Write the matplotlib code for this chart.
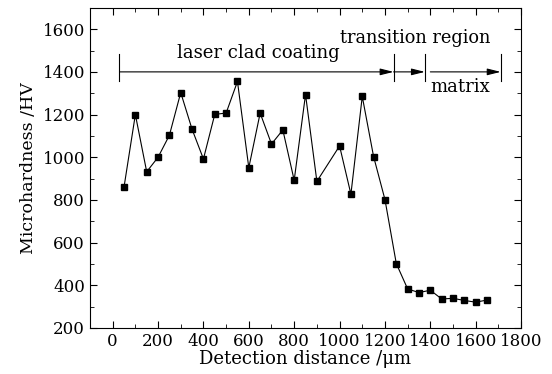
import matplotlib.pyplot as plt
from matplotlib.ticker import MultipleLocator

# -----------------------------
# Data
# -----------------------------
distance = [50, 100, 150, 200, 250, 300, 350, 400, 450, 500, 550, 600, 650,
            700, 750, 800, 850, 900, 1000, 1050, 1100, 1150, 1200, 1250,
            1300, 1350, 1400, 1450, 1500, 1550, 1600, 1650]
hardness = [860, 1200, 932, 1000, 1103, 1303, 1131, 992, 1201, 1207, 1355, 951, 1207,
            1062, 1128, 892, 1294, 887, 1053, 827, 1285, 1003, 802, 502,
            383, 366, 377, 336, 339, 329, 321, 331]

# region boundaries (um) and arrow height (HV)
region_edges = [30, 1238, 1376, 1710]
arrow_y = 1400
region_labels = ["laser clad coating", "transition region", "matrix"]

plt.rcParams["font.family"] = "DejaVu Serif"
plt.rcParams["mathtext.fontset"] = "dejavuserif"

fig = plt.figure(figsize=(5.52, 3.74), dpi=100)
ax = fig.add_axes([0.163, 0.123, 0.781, 0.856])

ax.plot(distance, hardness, color="black", linewidth=0.8,
        marker="s", markersize=5, markerfacecolor="black", markeredgecolor="black")

# -----------------------------
# Region arrows
# -----------------------------
for xe in region_edges:
    ax.plot([xe, xe], [1355, 1485], color="black", linewidth=0.8)

arrow_style = dict(arrowstyle="-|>,head_length=0.8,head_width=0.2", color="black",
                   lw=0.8, mutation_scale=10, shrinkA=0, shrinkB=0)
ax.annotate("", xy=(region_edges[1], arrow_y), xytext=(region_edges[0], arrow_y),
            arrowprops=arrow_style)
ax.annotate("", xy=(region_edges[2], arrow_y), xytext=(region_edges[1], arrow_y),
            arrowprops=arrow_style)
ax.annotate("", xy=(region_edges[3], arrow_y), xytext=(1400, arrow_y),
            arrowprops=arrow_style)

ax.text(643, 1490, region_labels[0], ha="center", va="center", fontsize=13)
ax.text(1332, 1560, region_labels[1], ha="center", va="center", fontsize=12.8)
ax.text(1532, 1330, region_labels[2], ha="center", va="center", fontsize=13)

# -----------------------------
# Axes
# -----------------------------
ax.set_xlim(-100, 1800)
ax.set_ylim(200, 1700)
ax.xaxis.set_major_locator(MultipleLocator(200))
ax.xaxis.set_minor_locator(MultipleLocator(100))
ax.yaxis.set_major_locator(MultipleLocator(200))
ax.yaxis.set_minor_locator(MultipleLocator(100))
ax.tick_params(which="both", direction="in", top=True, right=True, labelsize=12)
ax.tick_params(which="major", length=5)
ax.tick_params(which="minor", length=3)
ax.set_xticks(range(0, 1801, 200))
ax.set_yticks(range(200, 1601, 200))

ax.set_xlabel("Detection distance /\u03bcm", fontsize=13, labelpad=0)
ax.set_ylabel("Microhardness /HV", fontsize=12.5, labelpad=4)

plt.savefig("out.png", dpi=100)
plt.close()
